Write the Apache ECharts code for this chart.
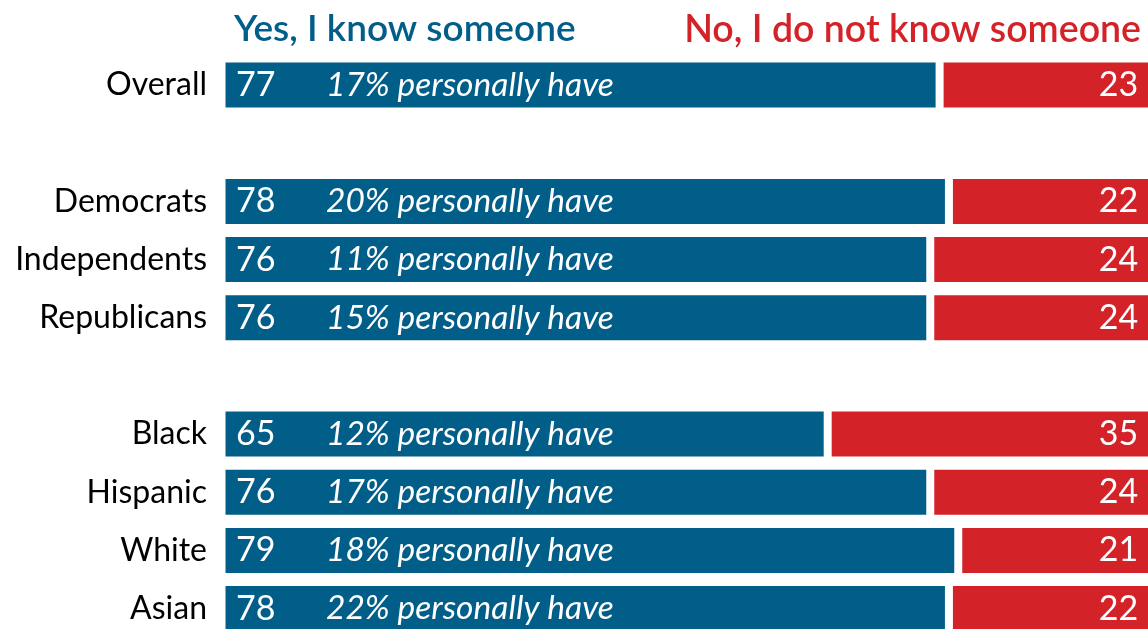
<!DOCTYPE html>
<html>
<head>
<meta charset="utf-8">
<script src="https://cdn.jsdelivr.net/npm/echarts@6/dist/echarts.min.js"></script>
<style>
  html, body { margin: 0; padding: 0; background: #fff; }
  #chart { width: 1148px; height: 629px; }
</style>
</head>
<body>
<div id="chart"></div>
<script>
// groups (blank entries are the spacer rows)
const categories = ['Overall', ' ', 'Democrats', 'Independents', 'Republicans', '  ', 'Black', 'Hispanic', 'White', 'Asian']
const yesValues = [77, '-', 78, 76, 76, '-', 65, 76, 79, 78]
const noValues = [23, '-', 22, 24, 24, '-', 35, 24, 21, 22]
const personallyHave = ['17%', '', '20%', '11%', '15%', '', '12%', '17%', '18%', '22%']

const blue = '#005e89'
const red = '#d42229'
const font = 'Lato'

const chartDom = document.getElementById('chart')
const myChart = echarts.init(chartDom)

const option = {
  animation: false,
  title: [
    {
      text: 'Yes, I know someone',
      left: 229,
      top: 6,
      textStyle: { color: blue, fontFamily: font, fontSize: 37, fontWeight: 600 }
    },
    {
      text: 'No, I do not know someone',
      right: 2,
      top: 6,
      textStyle: { color: red, fontFamily: font, fontSize: 37.5, fontWeight: 600 }
    }
  ],
  grid: { left: 221.5, top: 56, width: 932.6, height: 581.7, outerBoundsMode: 'none' },
  xAxis: { type: 'value', min: 0, max: 100, show: false },
  yAxis: {
    type: 'category',
    inverse: true,
    data: categories,
    axisLine: { show: false },
    axisTick: { show: false },
    axisLabel: { color: '#000', fontFamily: font, fontSize: 32, margin: 14.5 }
  },
  series: [
    {
      name: 'Yes',
      type: 'bar',
      stack: 'all',
      barWidth: 53,
      data: yesValues,
      itemStyle: { color: blue, borderColor: '#fff', borderWidth: 4 },
      label: {
        show: true,
        position: 'insideLeft',
        distance: 14.5,
        formatter: p => '{n|' + p.value + '}{p|' + personallyHave[p.dataIndex] + ' personally have}',
        rich: {
          n: { color: '#fff', fontFamily: font, fontSize: 34, width: 90 },
          p: { color: '#fff', fontFamily: font, fontSize: 33.5, fontStyle: 'italic' }
        }
      }
    },
    {
      name: 'No',
      type: 'bar',
      stack: 'all',
      barWidth: 53,
      data: noValues,
      itemStyle: { color: red, borderColor: '#fff', borderWidth: 4 },
      label: {
        show: true,
        position: 'insideRight',
        distance: 16,
        color: '#fff',
        fontFamily: font,
        fontSize: 34
      }
    }
  ]
}

myChart.setOption(option)
</script>
</body>
</html>
